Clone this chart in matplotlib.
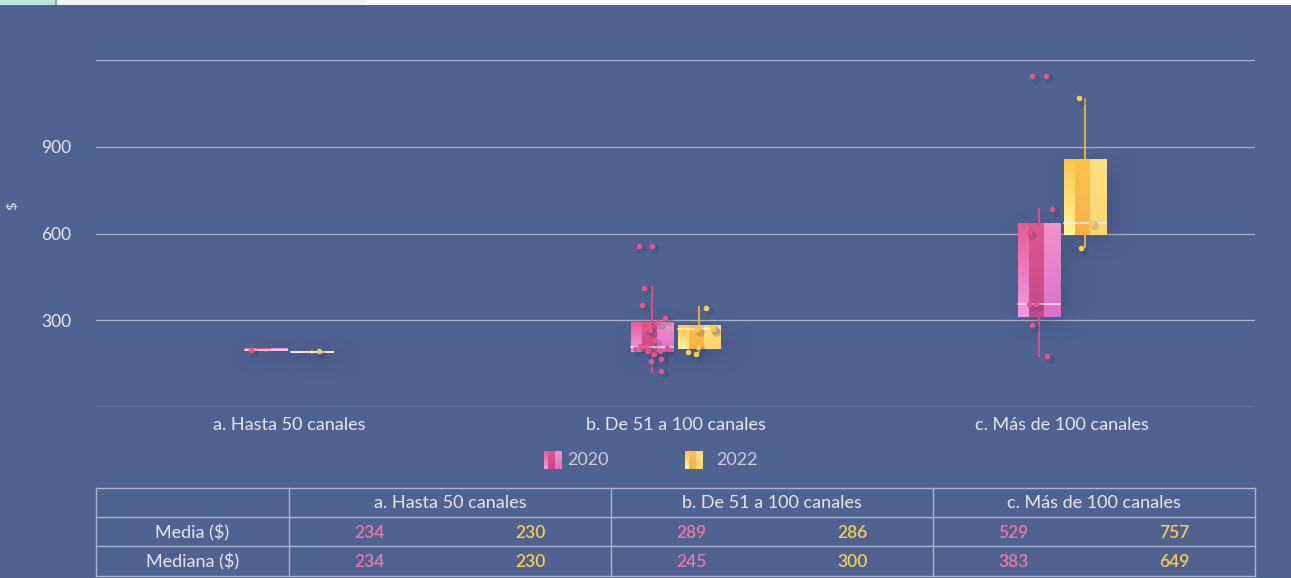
import matplotlib.pyplot as plt
import matplotlib.patches as mpatches
import numpy as np

plt.rcParams['font.family'] = ['Lato', 'DejaVu Sans']

categories = ['a. Hasta 50 canales', 'b. De 51 a 100 canales', 'c. Más de 100 canales']
years = ['2020', '2022']

# box statistics (q1, median, q3, whisker low, whisker high)
q1_2020 = [193, 190, 312]
med_2020 = [197, 208, 356]
q3_2020 = [200, 291, 637]
lo_2020 = [193, 122, 176]
hi_2020 = [200, 415, 685]

q1_2022 = [188, 200, 595]
med_2022 = [191, 270, 637]
q3_2022 = [194, 280, 855]
lo_2022 = [188, 190, 554]
hi_2022 = [194, 346, 1066]

# individual observations: (category index, jitter, value)
pts_2020 = [
    (0, -0.098, 197),
    (1, -0.094, 558), (1, -0.060, 558), (1, -0.082, 413), (1, -0.087, 353),
    (1, -0.026, 309), (1, -0.045, 293), (1, -0.068, 285), (1, -0.075, 274),
    (1, -0.065, 265), (1, -0.056, 231), (1, -0.092, 211), (1, -0.077, 210),
    (1, -0.023, 203), (1, -0.104, 200), (1, -0.070, 194), (1, -0.039, 194),
    (1, -0.056, 184), (1, -0.064, 160), (1, -0.038, 165), (1, -0.038, 126),
    (2, -0.076, 1143), (2, -0.041, 1143), (2, -0.025, 684), (2, -0.086, 604),
    (2, -0.086, 355), (2, -0.066, 355), (2, -0.078, 283), (2, -0.039, 176),
]
pts_2022 = [
    (0, 0.078, 194),
    (1, 0.080, 344), (1, 0.056, 271), (1, 0.094, 278), (1, 0.096, 271),
    (1, 0.058, 208), (1, 0.032, 191), (1, 0.052, 184),
    (2, 0.045, 1067), (2, 0.075, 638), (2, 0.050, 551),
]

table_rows = ['Media ($)', 'Mediana ($)']
media_2020 = [234, 289, 529]
media_2022 = [230, 286, 757]
mediana_2020 = [234, 245, 383]
mediana_2022 = [230, 300, 649]

bg = '#506290'
txt = '#e4e8f2'
grid_c = '#a9b2cd'
pink_pt = '#e4548d'
yell_pt = '#f8cf48'
pink_txt = '#ec77a6'
yell_txt = '#f5cd4e'

# strip colours (top, bottom) for the "3D" boxes
pink_strips = [('#f39ae6', '#e75c96'), ('#c44b8b', '#e0568f'), ('#dc70c9', '#ef94c6')]
yell_strips = [('#fff49a', '#fdc84a'), ('#fab249', '#fdc04d'), ('#fdd675', '#fde07f')]
strip_frac = [0.0, 0.26, 0.62, 1.0]

fig = plt.figure(figsize=(12.91, 5.78), dpi=100, facecolor=bg)
W, H = 1291, 578
ax = fig.add_axes([96 / W, 171 / H, 1159 / W, 347 / H])
ax.set_facecolor(bg)

def hex2rgb(h):
    h = h.lstrip('#')
    return np.array([int(h[i:i + 2], 16) / 255 for i in (0, 2, 4)])

def grad_rect(ax, x0, x1, y0, y1, top, bottom, z):
    c0, c1 = hex2rgb(top), hex2rgb(bottom)
    t = np.linspace(0, 1, 64)[:, None, None]
    img = c0 * (1 - t) + c1 * t
    ax.imshow(img, extent=[x0, x1, y1, y0], aspect='auto', origin='upper',
              interpolation='bilinear', zorder=z)

def soft_shadow(ax, x0, x1, y0, y1, padx, pady, alpha):
    n = 80
    u = np.linspace(0, 1, n)
    def ramp(v, f):
        return np.clip(np.minimum(v, 1 - v) / f, 0, 1) ** 1.6
    fx = padx / (x1 - x0 + 2 * padx)
    fy = pady / (y1 - y0 + 2 * pady)
    img = np.zeros((n, n, 4))
    img[..., :3] = hex2rgb('#26325a')
    img[..., 3] = np.outer(ramp(u, 2 * fy), ramp(u, 2 * fx)) * alpha
    ax.imshow(img, extent=[x0 - padx, x1 + padx, y0 - pady, y1 + pady], aspect='auto',
              origin='lower', interpolation='bilinear', zorder=1)

box_w = 0.109
off = 0.060

def draw_box(ax, xc, q1, med, q3, lo, hi, strips, line_c):
    x0 = xc - box_w / 2
    soft_shadow(ax, x0 + 0.02, x0 + box_w + 0.02, q1 - 30, q3 - 10, 0.07, 70, 0.45)
    ax.plot([xc, xc], [lo, hi], color=line_c, lw=1.3, zorder=2)
    h = max(q3 - q1, 6)
    for i, (top, bot) in enumerate(strips):
        a = x0 + strip_frac[i] * box_w
        b = x0 + strip_frac[i + 1] * box_w
        grad_rect(ax, a, b, q1, q1 + h, top, bot, 3)
    ax.plot([x0, x0 + box_w], [med, med], color='#f6eef3', lw=1.2, alpha=0.85, zorder=4)

for i in range(3):
    draw_box(ax, i - off, q1_2020[i], med_2020[i], q3_2020[i], lo_2020[i], hi_2020[i],
             pink_strips, '#e0508a')
    draw_box(ax, i + off, q1_2022[i], med_2022[i], q3_2022[i], lo_2022[i], hi_2022[i],
             yell_strips, '#e8b83c')

for pts, c in [(pts_2020, pink_pt), (pts_2022, yell_pt)]:
    xs = [p[0] + p[1] for p in pts]
    ys = [p[2] for p in pts]
    ax.scatter([x + 0.008 for x in xs], [y - 10 for y in ys], s=40, color='#2a375f',
               alpha=0.2, lw=0, zorder=4)
    ax.scatter(xs, ys, s=16, color=c, lw=0, zorder=5)

ax.set_xlim(-0.5, 2.5)
ax.set_ylim(0, 1200)
ax.set_yticks([300, 600, 900])
ax.grid(False)
for y in [300, 600, 900, 1200]:
    ax.axhline(y, color=grid_c, lw=0.9, zorder=0)
ax.axhline(0, color=grid_c, lw=1.0, zorder=0)
ax.set_xticks(range(3))
ax.set_xticklabels(categories, color=txt, fontsize=13)
ax.tick_params(axis='x', length=0, pad=7)
ax.tick_params(axis='y', length=0, pad=18, labelcolor=txt, labelsize=12.5)
for s in ax.spines.values():
    s.set_visible(False)
fig.text(12 / W, 1 - 205 / H, '$', rotation=90, color=txt, fontsize=10,
         ha='center', va='center', family=['DejaVu Sans'])

# overlay in pixel coordinates for legend, table and top strip
ov = fig.add_axes([0, 0, 1, 1])
ov.axis('off')
ov.patch.set_alpha(0)

ov.add_patch(mpatches.Rectangle((0, 0), 55, 5, color='#c3e2dc', lw=0))
ov.add_patch(mpatches.Rectangle((55, 0), 2, 5, color='#8fa3b8', lw=0))
ov.add_patch(mpatches.Rectangle((57, 0), 310, 5, color='#f1f6f5', lw=0))
ov.add_patch(mpatches.Rectangle((367, 0), W - 367, 5, color='#ffffff', lw=0))

# legend
for x0, strips, label, tx in [(544, pink_strips, years[0], 567), (685, yell_strips, years[1], 716)]:
    for i, (top, bot) in enumerate(strips):
        a = x0 + strip_frac[i] * 17
        b = x0 + strip_frac[i + 1] * 17
        grad_rect(ov, a, b, 469, 451, top, bot, 3)
    ov.text(tx, 460, label, color='#c8cde0', fontsize=13, va='center', ha='left')

# table
tl, tr = 96, 1255
rows_y = [488, 517, 546, 576]
cols_x = [96, 289, 611, 933, 1255]
lc = '#aab3cf'
for y in rows_y:
    ov.plot([tl, tr], [y, y], color=lc, lw=1)
for x in cols_x:
    ov.plot([x, x], [rows_y[0], rows_y[-1]], color=lc, lw=1)
for i, cat in enumerate(categories):
    cx = (cols_x[i + 1] + cols_x[i + 2]) / 2
    ov.text(cx, (rows_y[0] + rows_y[1]) / 2 + 1, cat, color=txt, fontsize=13,
            ha='center', va='center')
row_vals = [(media_2020, media_2022), (mediana_2020, mediana_2022)]
for r, name in enumerate(table_rows):
    yc = (rows_y[r + 1] + rows_y[r + 2]) / 2 + 1
    ov.text((cols_x[0] + cols_x[1]) / 2, yc, name, color=txt, fontsize=13,
            ha='center', va='center')
    v20, v22 = row_vals[r]
    for i in range(3):
        a, b = cols_x[i + 1], cols_x[i + 2]
        ov.text(a + (b - a) * 0.25, yc, str(v20[i]), color=pink_txt, fontsize=12.5,
                ha='center', va='center', weight='semibold')
        ov.text(a + (b - a) * 0.75, yc, str(v22[i]), color=yell_txt, fontsize=12.5,
                ha='center', va='center', weight='semibold')

ov.set_xlim(0, W)
ov.set_ylim(H, 0)

fig.savefig('out.png', dpi=100, facecolor=bg)
